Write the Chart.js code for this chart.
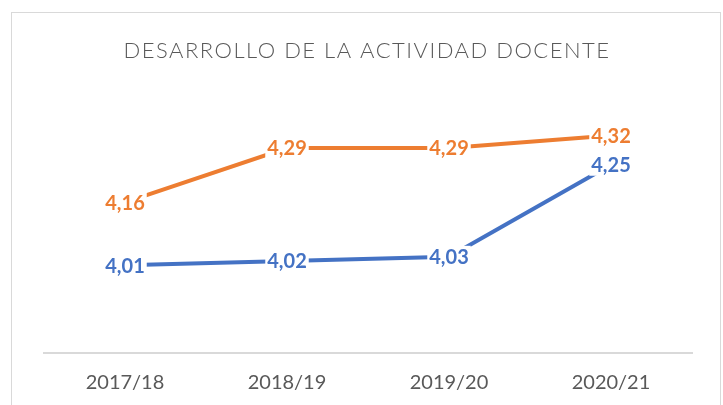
<!DOCTYPE html>
<html lang="es">
<head>
    <meta charset="UTF-8">
    <title>Desarrollo de la actividad docente</title>
    <style>
        body {
            margin: 0;
            background-color: #ffffff;
            font-family: Lato, Arial, sans-serif;
            overflow: hidden;
        }
        .frame {
            position: absolute;
            left: 11px;
            top: 12px;
            width: 708px;
            height: 410px;
            border: 1px solid #d9d9d9;
        }
        .chart-container {
            position: relative;
            width: 723px;
            height: 421px;
        }
    </style>
    <script src="https://cdn.jsdelivr.net/npm/chart.js"></script>
</head>
<body>
    <div class="frame"></div>
    <div class="chart-container">
        <canvas id="chart"></canvas>
    </div>
    <script>
        const cursos = ['2017/18', '2018/19', '2019/20', '2020/21'];
        const serieNaranja = [4.16, 4.29, 4.29, 4.32];
        const serieAzul = [4.01, 4.02, 4.03, 4.25];
        const titulo = 'DESARROLLO DE LA ACTIVIDAD DOCENTE';

        // titulo con espaciado entre letras
        const tituloPlugin = {
            id: 'tituloPlugin',
            afterDraw(chart) {
                const ctx = chart.ctx;
                ctx.save();
                ctx.font = '300 22px Lato';
                ctx.letterSpacing = '1.5px';
                ctx.fillStyle = '#595959';
                ctx.textAlign = 'center';
                ctx.textBaseline = 'middle';
                ctx.fillText(titulo, 367, 51);
                ctx.restore();
            }
        };

        // etiquetas centradas sobre cada punto, con fondo blanco
        const etiquetasPlugin = {
            id: 'etiquetasPlugin',
            afterDatasetsDraw(chart) {
                const ctx = chart.ctx;
                ctx.save();
                ctx.font = 'bold 20px Lato';
                ctx.textAlign = 'center';
                ctx.textBaseline = 'middle';
                chart.data.datasets.forEach((ds, i) => {
                    const meta = chart.getDatasetMeta(i);
                    meta.data.forEach((pt, j) => {
                        const txt = ds.data[j].toFixed(2).replace('.', ',');
                        const w = ctx.measureText(txt).width;
                        ctx.fillStyle = '#ffffff';
                        ctx.fillRect(pt.x - w / 2 - 2, pt.y - 11, w + 4, 22);
                        ctx.fillStyle = ds.borderColor;
                        ctx.fillText(txt, pt.x, pt.y + 1);
                    });
                });
                ctx.restore();
            }
        };

        new Chart(document.getElementById('chart'), {
            type: 'line',
            data: {
                labels: cursos,
                datasets: [{
                    label: 'Serie 2',
                    data: serieNaranja,
                    borderColor: '#ED7D31',
                    borderWidth: 4,
                    pointRadius: 0,
                    fill: false
                }, {
                    label: 'Serie 1',
                    data: serieAzul,
                    borderColor: '#4472C4',
                    borderWidth: 4,
                    pointRadius: 0,
                    fill: false
                }]
            },
            options: {
                responsive: true,
                maintainAspectRatio: false,
                animation: false,
                layout: {
                    padding: { left: 44, right: 31, top: 102, bottom: 8 }
                },
                plugins: {
                    legend: { display: false },
                    tooltip: { enabled: false }
                },
                scales: {
                    x: {
                        offset: true,
                        grid: { display: false, drawTicks: false },
                        border: { display: true, color: '#d9d9d9', width: 2 },
                        ticks: {
                            color: '#595959',
                            font: { family: 'Lato', size: 20 },
                            padding: 18
                        }
                    },
                    y: {
                        display: false,
                        min: 3.8,
                        max: 4.4
                    }
                }
            },
            plugins: [etiquetasPlugin, tituloPlugin]
        });
    </script>
</body>
</html>
